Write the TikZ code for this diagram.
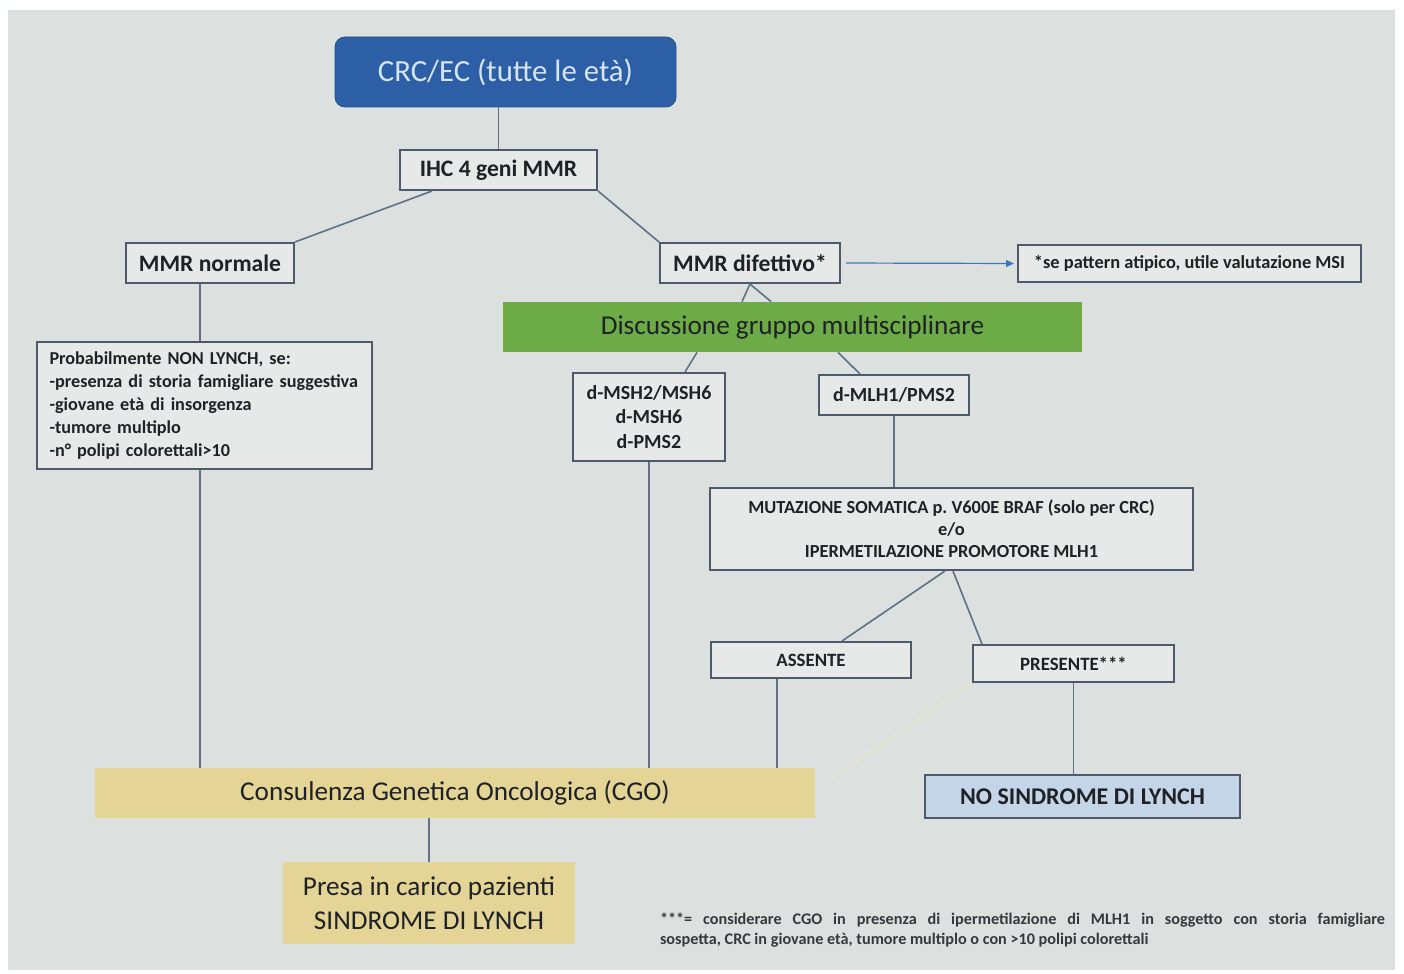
\documentclass[tikz,border=0pt]{standalone}
\usepackage{fontspec}
\setmainfont{Carlito}
\usetikzlibrary{calc,arrows.meta}
\frenchspacing

\definecolor{panel}{HTML}{DCE0DE}
\definecolor{boxfill}{HTML}{E6E9E8}
\definecolor{boxline}{HTML}{4C5A6B}
\definecolor{linkc}{HTML}{5E7186}
\definecolor{crcblue}{HTML}{2C5FA5}
\definecolor{crctext}{HTML}{D6E3F1}
\definecolor{dgreen}{HTML}{6CAB46}
\definecolor{sandfill}{HTML}{E4D496}
\definecolor{nsblue}{HTML}{C3D5E6}
\definecolor{ink}{HTML}{1E2226}
\definecolor{arrowc}{HTML}{3C78C0}
\definecolor{faintline}{HTML}{E8E7CC}

\begin{document}
\begin{tikzpicture}[%
    x=0.5pt, y=-0.5pt,
    wh/.style 2 args={minimum width=#1*0.5pt, minimum height=#2*0.5pt},
    box/.style={
      draw=boxline,
      line width=1pt,
      fill=boxfill,
      text=ink,
      inner sep=0pt,
      align=center,
      font=\bfseries
    },
    sandbox/.style={
      fill=sandfill,
      text=ink,
      inner sep=0pt,
      align=center,
      font=\fontsize{13.6}{17}\selectfont
    },
    link/.style={draw=linkc, line width=0.8pt}
  ]
    \fill[white] (0,0) rectangle (1404,974);
    \fill[panel] (8,10) rectangle (1395,970);

    \draw (505.5,72) node[wh={341}{70}, fill=crcblue, draw=crcblue!85!black,
      rounded corners=5pt, text=crctext, inner sep=0pt,
      font=\fontsize{15.4}{18}\selectfont] (crc) {CRC/EC (tutte le età)};
    \draw (498.5,170) node[box, wh={197}{40},
      font=\bfseries\fontsize{11.8}{14}\selectfont] (ihc) {IHC 4 geni MMR};
    \draw (210,263) node[box, wh={168}{40},
      font=\bfseries\fontsize{11.8}{14}\selectfont] (mmrnorm) {MMR normale};
    \draw (750,263) node[box, wh={180}{40},
      font=\bfseries\fontsize{11.8}{14}\selectfont] (mmrdif) {MMR difettivo*};
    \draw (1189.5,263.5) node[box, wh={343}{37},
      font=\bfseries\fontsize{9.2}{11}\selectfont] (msi)
      {*se pattern atipico, utile valutazione MSI};
    \draw (204.5,405.5) node[box, wh={335}{127}, align=left, text width=155pt,
      font=\bfseries\fontsize{9.1}{11.5}\selectfont] (nonlynch)
      {Probabilmente NON LYNCH, se:\\
       -presenza di storia famigliare suggestiva\\
       -giovane età di insorgenza\\
       -tumore multiplo\\
       -n° polipi colorettali>10};

    \draw (792.5,327) node[wh={579}{50}, fill=dgreen, text=ink, inner sep=0pt,
      font=\fontsize{13.6}{17}\selectfont] (discuss)
      {Discussione gruppo multisciplinare};
    \draw (649,417) node[box, wh={152}{88},
      font=\bfseries\fontsize{10}{12.3}\selectfont] (msh)
      {d-MSH2/MSH6\\ d-MSH6\\ d-PMS2};
    \draw (894,395) node[box, wh={150}{40},
      font=\bfseries\fontsize{10}{12.3}\selectfont] (mlh) {d-MLH1/PMS2};
    \draw (951.5,529) node[box, wh={483}{82},
      font=\bfseries\fontsize{9.2}{11}\selectfont] (braf)
      {MUTAZIONE SOMATICA p. V600E BRAF (solo per CRC)\\ e/o\\
       IPERMETILAZIONE PROMOTORE MLH1};
    \draw (811,660) node[box, wh={200}{36},
      font=\bfseries\fontsize{9.4}{10}\selectfont] (assente) {ASSENTE};
    \draw (1073.5,663.5) node[box, wh={201}{37},
      font=\bfseries\fontsize{9.4}{10}\selectfont] (presente) {PRESENTE***};

    \draw (455,793) node[sandbox, wh={720}{50}] (cgo)
      {Consulenza Genetica Oncologica (CGO)};
    \draw (1082.5,796.5) node[box, wh={315}{43}, fill=nsblue,
      font=\bfseries\fontsize{12}{14}\selectfont] (nosind)
      {NO SINDROME DI LYNCH};
    \draw (429,903) node[sandbox, wh={292}{82}] (presa)
      {Presa in carico pazienti\\ SINDROME DI LYNCH};
    \draw (1022.5,930) node[text width=362.5pt, align=justify, inner sep=0pt,
      text=ink!90, font=\bfseries\fontsize{8.1}{10}\selectfont] (nota)
      {***= considerare CGO in presenza di ipermetilazione di MLH1 in soggetto
       con storia famigliare\linebreak sospetta, CRC in giovane età, tumore
       multiplo o con >10 polipi colorettali};

    % collegamenti
    \coordinate (nl) at ($(nonlynch.north)+(-4.5,0)$);
    \coordinate (as) at ($(assente.south)+(-34,0)$);
    \draw[link] (ihc.north |- crc.south) -- (ihc.north);
    \draw[link] ($(ihc.south west)+(33,0)$) -- (mmrnorm.north east);
    \draw[link] (ihc.south east) -- (mmrdif.north west);
    \draw[link] (nl |- mmrnorm.south) -- (nl);
    \draw[link] (nl |- nonlynch.south) -- (nl |- cgo.north);
    \draw[link] ($(discuss.north)+(-50.5,0)$) -- (mmrdif.south)
      -- ($(discuss.north)+(-21.5,0)$);
    \draw[link] ($(discuss.south)+(-95.5,0)$) -- ($(msh.north)+(36,0)$);
    \draw[link] ($(discuss.south)+(45.5,0)$) -- ($(mlh.north)+(-34,0)$);
    \draw[link] (msh.south) -- (msh.south |- cgo.north);
    \draw[link] (mlh.south) -- (mlh.south |- braf.north);
    \draw[link] ($(braf.south)+(-6.5,0)$) -- ($(assente.north)+(31,0)$);
    \draw[link] ($(braf.south)+(1.5,0)$) -- ($(presente.north west)+(10,0)$);
    \draw[link] (as) -- (as |- cgo.north);
    \draw[link] (presente.south) -- (presente.south |- nosind.north);
    \draw[faintline, line width=0.8pt] (presente.south west)
      -- ($(cgo.north east)+(14,12)$);
    \draw[link] (presa.north |- cgo.south) -- (presa.north);
    \draw[arrowc, line width=0.6pt, shorten <=2.5pt, shorten >=1.5pt,
      -{Triangle[length=4pt,width=3.5pt]}] (mmrdif.east) -- (msi.west);

  \end{tikzpicture}
\end{document}
